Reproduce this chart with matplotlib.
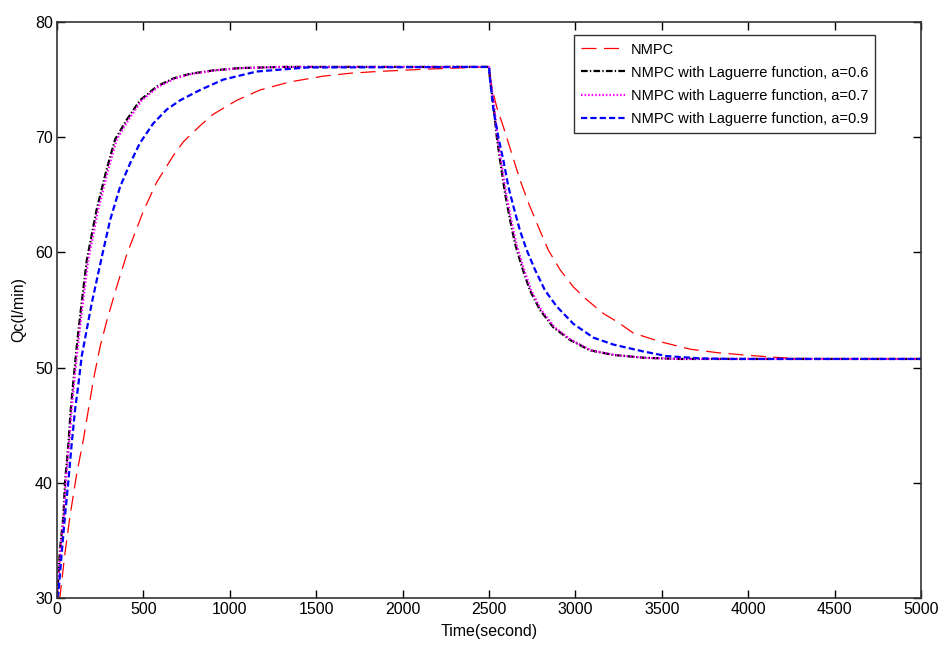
import matplotlib
matplotlib.use('Agg')
import matplotlib.pyplot as plt

plt.rcParams['font.family'] = ['Liberation Sans', 'DejaVu Sans']

# NMPC (red)
t_nmpc = [0, 17, 46, 75, 114, 152, 181, 210, 249, 287, 345, 403, 500, 577, 673, 731, 828, 905,
          1040, 1175, 1348, 1541, 1696, 1850, 2083, 2300, 2500, 2515, 2545, 2583, 2631, 2679,
          2728, 2786, 2843, 2911, 2988, 3065, 3161, 3239, 3335, 3490, 3663, 3818, 3972, 4146,
          4262, 4500, 5000]
q_nmpc = [30, 30.1, 33.9, 37.1, 40.8, 43.7, 46.3, 48.9, 51.8, 54.0, 57.0, 59.8, 63.6, 66.1, 68.4,
          69.6, 71.0, 72.0, 73.2, 74.1, 74.8, 75.3, 75.55, 75.7, 75.87, 76.0, 76.1, 74.4, 72.6,
          70.9, 68.6, 66.3, 64.3, 62.2, 60.2, 58.5, 57.0, 55.9, 54.7, 54.0, 53.0, 52.25, 51.6,
          51.3, 51.1, 50.9, 50.8, 50.75, 50.75]

# a = 0.6 (black)
t_a06 = [0, 17, 37, 46, 66, 79, 95, 114, 133, 172, 229, 287, 336, 403, 480, 577, 673, 770, 905,
         1059, 1300, 2500, 2506, 2525, 2545, 2564, 2593, 2622, 2650, 2689, 2737, 2795, 2872,
         2969, 3084, 3219, 3400, 3600, 5000]
q_a06 = [30, 34.2, 37.1, 40.0, 43.4, 46.3, 48.9, 51.8, 54.4, 59.3, 63.7, 67.2, 69.8, 71.5, 73.2,
         74.4, 75.1, 75.5, 75.8, 76.0, 76.1, 76.1, 75.0, 72.9, 70.0, 68.0, 65.1, 62.8, 60.8,
         58.8, 56.7, 55.0, 53.5, 52.4, 51.5, 51.1, 50.85, 50.75, 50.75]

# a = 0.7 (magenta)
t_a07 = [0, 20, 40, 50, 70, 84, 100, 120, 140, 180, 238, 296, 346, 413, 490, 588, 683, 780, 915,
         1070, 1300, 2500, 2508, 2528, 2549, 2569, 2599, 2629, 2657, 2696, 2744, 2802, 2879,
         2975, 3090, 3225, 3400, 3600, 5000]
q_a07 = q_a06

# a = 0.9 (blue)
t_a09 = [0, 8, 27, 46, 66, 85, 104, 124, 143, 172, 201, 259, 307, 365, 422, 480, 557, 635, 712,
         828, 962, 1155, 1445, 2500, 2506, 2525, 2554, 2583, 2612, 2641, 2679, 2718, 2766, 2824,
         2892, 2988, 3104, 3219, 3393, 3528, 3721, 3900, 5000]
q_a09 = [30, 30.4, 33.9, 37.1, 40.2, 43.4, 46.3, 48.6, 51.0, 53.3, 55.6, 59.6, 62.8, 65.7, 67.7,
         69.5, 71.2, 72.4, 73.2, 74.1, 75.0, 75.7, 76.05, 76.1, 75.0, 72.4, 70.0, 68.0, 65.7,
         64.0, 61.9, 60.2, 58.5, 56.7, 55.3, 53.8, 52.6, 52.0, 51.4, 51.0, 50.8, 50.75, 50.75]

labels = ['NMPC',
          'NMPC with Laguerre function, a=0.6',
          'NMPC with Laguerre function, a=0.7',
          'NMPC with Laguerre function, a=0.9']

fig = plt.figure(figsize=(9.38, 6.45), dpi=100)
ax = fig.add_axes([0.0608, 0.0729, 0.9211, 0.893])

ax.plot(t_nmpc, q_nmpc, color='red', lw=0.9, dashes=(12, 6), label=labels[0])
ax.plot(t_a06, q_a06, color='black', lw=1.6, dashes=(3, 1, 0.6, 1), label=labels[1])
ax.plot(t_a07, q_a07, color='magenta', lw=1.6, dashes=(0.7, 0.9), label=labels[2])
ax.plot(t_a09, q_a09, color='blue', lw=1.6, dashes=(2.8, 1.4), label=labels[3])

ax.set_xlim(0, 5000)
ax.set_ylim(30, 80)
ax.set_xticks(range(0, 5001, 500))
ax.set_yticks(range(30, 81, 10))
ax.tick_params(direction='in', top=True, right=True, length=6, width=1, labelsize=11.5, pad=3)
for s in ax.spines.values():
    s.set_linewidth(1.2)
    s.set_color('#333333')

ax.set_xlabel('Time(second)', fontsize=11.5, labelpad=5)
ax.set_ylabel('Qc(l/min)', fontsize=11.5, labelpad=6)

leg = ax.legend(loc='upper right', bbox_to_anchor=(0.947, 0.977), fontsize=10.5, frameon=True,
                fancybox=False, handlelength=3.0, handletextpad=0.4, labelspacing=0.62,
                borderpad=0.5, borderaxespad=0)
leg.get_frame().set_edgecolor('black')
leg.get_frame().set_linewidth(1.0)

fig.savefig('out.png', dpi=100)
